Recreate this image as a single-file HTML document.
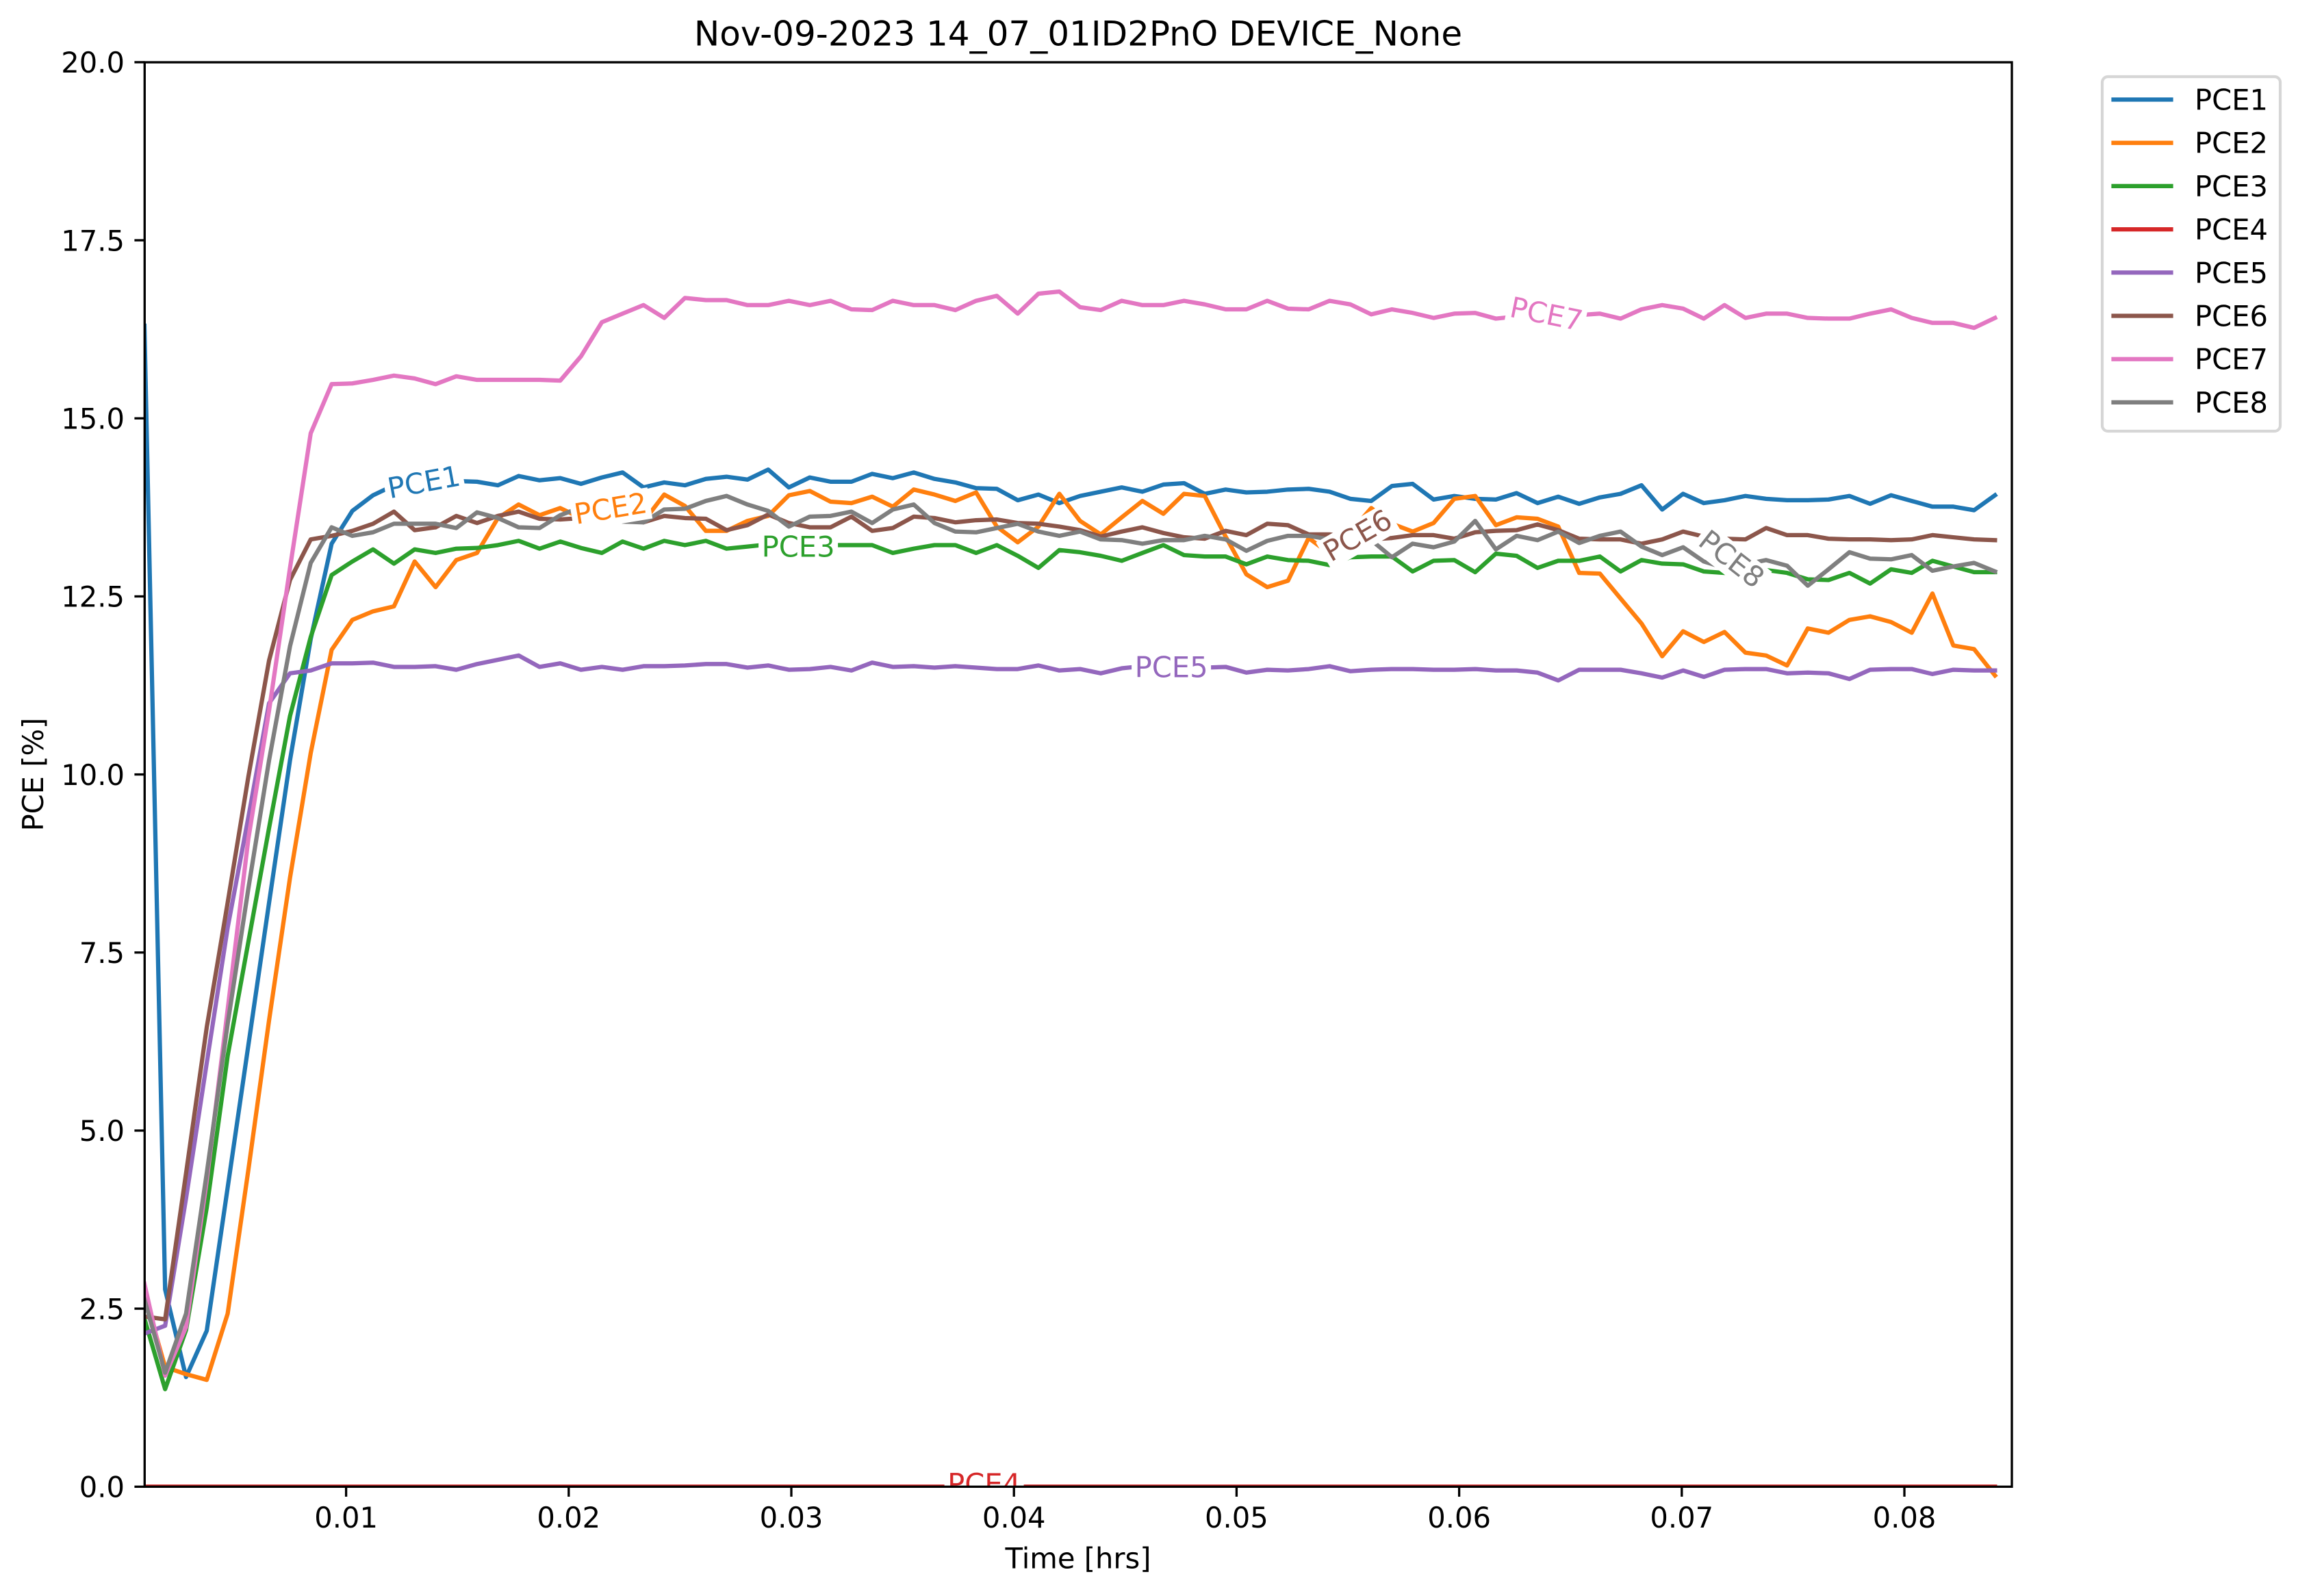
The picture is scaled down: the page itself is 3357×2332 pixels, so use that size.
<!DOCTYPE html>
<html lang="en">
<head>
<meta charset="utf-8">
<title>PCE chart</title>
<style>
html,body{margin:0;padding:0;background:#fff;}
svg{display:block;}
text{font-family:"DejaVu Sans","Liberation Sans",sans-serif;}
</style>
</head>
<body>
<svg id="chart" xmlns="http://www.w3.org/2000/svg" width="3357" height="2332" viewBox="0 0 3357 2332">
  <defs><clipPath id="axes-clip"><rect x="211.3" y="91" width="2727.7" height="2081.3"/></clipPath></defs>
  <rect x="0" y="0" width="3357" height="2332" fill="#ffffff"/>
  <rect x="211.3" y="91" width="2727.7" height="2081.3" fill="#ffffff"/>
  <g id="lines" clip-path="url(#axes-clip)"></g>
  <g id="labels" clip-path="url(#axes-clip)"></g>
  <g id="ticks"></g>
  <rect x="211.3" y="91" width="2727.7" height="2081.3" fill="none" stroke="#000" stroke-width="3.33"/>
  <text x="1575" y="66.5" font-size="50" text-anchor="middle">Nov-09-2023 14_07_01ID2PnO DEVICE_None</text>
  <text x="1575" y="2291.5" font-size="41.67" text-anchor="middle">Time [hrs]</text>
  <text transform="translate(63,1131.6) rotate(-90)" font-size="41.67" text-anchor="middle">PCE [%]</text>
  <g id="legend">
    <rect x="3071" y="112" width="260" height="518" rx="8.3" ry="8.3" fill="#fff" stroke="#d6d6d6" stroke-width="4.17"/>
  </g>
</svg>
<script>
const time = [0.00094,0.00187,0.00281,0.00374,0.00468,0.00561,0.00654,0.00748,0.00841,0.00935,
0.01028,0.01121,0.01215,0.01308,0.01402,0.01495,0.01588,0.01682,0.01775,0.01869,
0.01962,0.02055,0.02149,0.02242,0.02336,0.02429,0.02522,0.02616,0.02709,0.02803,
0.02896,0.02989,0.03083,0.03176,0.03270,0.03363,0.03456,0.03550,0.03643,0.03737,
0.03830,0.03923,0.04017,0.04110,0.04204,0.04297,0.04390,0.04484,0.04577,0.04671,
0.04764,0.04857,0.04951,0.05044,0.05138,0.05231,0.05324,0.05418,0.05511,0.05605,
0.05698,0.05791,0.05885,0.05978,0.06072,0.06165,0.06258,0.06352,0.06445,0.06539,
0.06632,0.06725,0.06819,0.06912,0.07006,0.07099,0.07192,0.07286,0.07379,0.07473,
0.07566,0.07659,0.07753,0.07846,0.07940,0.08033,0.08126,0.08220,0.08313,0.08407];

const pce1 = [16.3,2.77,1.54,2.19,4.2,6.2,8.2,10.2,11.9,13.24,
13.70,13.92,14.06,14.13,14.12,14.12,14.11,14.06,14.19,14.13,
14.16,14.08,14.17,14.24,14.03,14.10,14.06,14.15,14.18,14.14,
14.28,14.03,14.17,14.11,14.11,14.22,14.16,14.24,14.15,14.10,
14.02,14.01,13.85,13.93,13.81,13.91,13.97,14.03,13.97,14.07,
14.09,13.94,14.00,13.96,13.97,14.00,14.01,13.97,13.87,13.84,
14.05,14.08,13.86,13.91,13.87,13.86,13.95,13.81,13.90,13.80,
13.89,13.94,14.06,13.72,13.94,13.81,13.85,13.91,13.87,13.85,
13.85,13.86,13.91,13.80,13.92,13.84,13.76,13.76,13.71,13.92];

const pce2 = [2.7,1.68,1.58,1.50,2.43,4.45,6.55,8.55,10.3,11.75,
12.17,12.29,12.36,12.99,12.63,13.01,13.11,13.60,13.79,13.64,
13.74,13.6,13.65,13.73,13.55,13.93,13.77,13.42,13.42,13.56,
13.63,13.92,13.98,13.83,13.81,13.90,13.76,14.00,13.93,13.84,
13.96,13.48,13.26,13.48,13.94,13.56,13.37,13.61,13.84,13.66,
13.94,13.91,13.34,12.81,12.63,12.72,13.32,13.1,13.4,13.74,
13.52,13.41,13.53,13.87,13.91,13.50,13.61,13.59,13.48,12.83,
12.82,12.47,12.12,11.66,12.01,11.86,12.00,11.71,11.67,11.53,
12.05,11.99,12.17,12.22,12.14,11.99,12.54,11.81,11.76,11.39];

const pce3 = [2.36,1.37,2.20,3.92,6.05,7.65,9.25,10.82,11.93,12.80,
12.99,13.16,12.96,13.16,13.11,13.17,13.18,13.22,13.28,13.17,
13.27,13.18,13.11,13.27,13.17,13.28,13.22,13.28,13.17,13.20,
13.23,13.22,13.22,13.22,13.22,13.22,13.11,13.17,13.22,13.22,
13.11,13.22,13.07,12.90,13.15,13.12,13.07,13.00,13.11,13.22,
13.08,13.06,13.06,12.95,13.06,13.01,13.00,12.94,13.05,13.06,
13.06,12.85,13.00,13.01,12.84,13.10,13.07,12.90,13.00,13.00,
13.06,12.85,13.01,12.96,12.95,12.85,12.83,12.83,12.87,12.83,
12.74,12.73,12.83,12.68,12.88,12.83,13.00,12.92,12.84,12.84];

const pce4 = [0,0,0,0,0,0,0,0,0,0,
0,0,0,0,0,0,0,0,0,0,
0,0,0,0,0,0,0,0,0,0,
0,0,0,0,0,0,0,0,0,0,
0,0,0,0,0,0,0,0,0,0,
0,0,0,0,0,0,0,0,0,0,
0,0,0,0,0,0,0,0,0,0,
0,0,0,0,0,0,0,0,0,0,
0,0,0,0,0,0,0,0,0,0];

const pce5 = [2.15,2.26,4.05,5.95,7.85,9.4,11.0,11.42,11.46,11.56,
11.56,11.57,11.51,11.51,11.52,11.47,11.55,11.61,11.67,11.51,
11.56,11.47,11.51,11.47,11.52,11.52,11.53,11.55,11.55,11.50,
11.53,11.47,11.48,11.51,11.46,11.57,11.51,11.52,11.50,11.52,
11.50,11.48,11.48,11.53,11.46,11.48,11.42,11.49,11.52,11.52,
11.52,11.50,11.51,11.43,11.47,11.46,11.48,11.52,11.45,11.47,
11.48,11.48,11.47,11.47,11.48,11.46,11.46,11.43,11.32,11.47,
11.47,11.47,11.42,11.36,11.46,11.37,11.47,11.48,11.48,11.42,
11.43,11.42,11.34,11.47,11.48,11.48,11.41,11.47,11.46,11.46];

const pce6 = [2.39,2.35,4.4,6.45,8.2,9.97,11.6,12.73,13.30,13.35,
13.42,13.52,13.69,13.43,13.47,13.63,13.53,13.63,13.69,13.59,
13.58,13.6,13.62,13.6,13.54,13.63,13.60,13.59,13.43,13.50,
13.65,13.53,13.47,13.47,13.62,13.42,13.46,13.62,13.60,13.54,
13.57,13.58,13.53,13.52,13.48,13.43,13.34,13.41,13.47,13.39,
13.33,13.31,13.42,13.36,13.52,13.50,13.37,13.37,13.33,13.3,
13.32,13.36,13.36,13.31,13.40,13.42,13.43,13.51,13.43,13.31,
13.30,13.30,13.24,13.30,13.41,13.34,13.31,13.30,13.46,13.36,
13.36,13.31,13.30,13.30,13.29,13.30,13.36,13.33,13.30,13.29];

const pce7 = [2.85,1.56,2.24,4.3,6.7,9.1,10.9,12.9,14.79,15.48,
15.49,15.54,15.60,15.56,15.48,15.59,15.54,15.54,15.54,15.54,
15.53,15.87,16.35,16.47,16.59,16.41,16.69,16.66,16.66,16.59,
16.59,16.65,16.59,16.65,16.53,16.52,16.65,16.59,16.59,16.52,
16.65,16.72,16.47,16.75,16.78,16.56,16.52,16.65,16.59,16.59,
16.65,16.60,16.53,16.53,16.65,16.54,16.53,16.65,16.60,16.46,
16.53,16.48,16.41,16.47,16.48,16.40,16.43,16.47,16.44,16.45,
16.47,16.40,16.53,16.59,16.54,16.40,16.59,16.41,16.47,16.47,
16.41,16.40,16.40,16.47,16.53,16.41,16.34,16.34,16.27,16.41];

const pce8 = [2.63,1.60,2.43,4.4,6.5,8.4,10.2,11.8,12.97,13.47,
13.35,13.40,13.52,13.52,13.52,13.46,13.68,13.60,13.47,13.46,
13.64,13.75,13.65,13.55,13.54,13.72,13.73,13.84,13.91,13.79,
13.70,13.48,13.62,13.63,13.69,13.53,13.72,13.79,13.53,13.41,
13.40,13.46,13.52,13.41,13.35,13.41,13.30,13.29,13.24,13.29,
13.29,13.35,13.30,13.14,13.28,13.35,13.35,13.3,13.3,13.29,
13.05,13.24,13.19,13.27,13.56,13.16,13.35,13.29,13.41,13.25,
13.35,13.41,13.20,13.08,13.19,12.99,12.9,12.95,13.01,12.93,
12.65,12.88,13.12,13.03,13.02,13.08,12.86,12.92,12.97,12.85];

const seriesNames = ["PCE1","PCE2","PCE3","PCE4","PCE5","PCE6","PCE7","PCE8"];
const seriesValues = [pce1,pce2,pce3,pce4,pce5,pce6,pce7,pce8];
const seriesColors = ["#1f77b4","#ff7f0e","#2ca02c","#d62728","#9467bd","#8c564b","#e377c2","#7f7f7f"];
const xTicks = [0.01,0.02,0.03,0.04,0.05,0.06,0.07,0.08];
const xTickLabels = ["0.01","0.02","0.03","0.04","0.05","0.06","0.07","0.08"];
const yTicks = [0,2.5,5,7.5,10,12.5,15,17.5,20];
const yTickLabels = ["0.0","2.5","5.0","7.5","10.0","12.5","15.0","17.5","20.0"];
const labelSeries = [0,1,2,3,4,5,6,7];
const labelTimes = [0.01349,0.02188,0.03031,0.03866,0.04707,0.05543,0.06392,0.07225];
const labelValues = [14.11,13.74,13.20,0.04,11.51,13.36,16.47,13.03];
const labelAngles = [-10.5,-9.5,0,0,0,-30,11.5,38];

const NS = "http://www.w3.org/2000/svg";
function xScale(t){ return 505.6 + 32520 * (t - 0.01); }
function yScale(v){ return 2172.3 - 104.07 * v; }
function make(tag, attrs){
  const el = document.createElementNS(NS, tag);
  for (const k in attrs) el.setAttribute(k, attrs[k]);
  return el;
}

const linesGroup = document.getElementById("lines");
seriesValues.forEach(function(vals, s){
  const pts = vals.map(function(v, i){ return xScale(time[i]).toFixed(2) + "," + yScale(v).toFixed(2); }).join(" ");
  const line = make("polyline", {points: pts, fill: "none", stroke: seriesColors[s], "stroke-width": 6.25, "stroke-linejoin": "round", "stroke-linecap": "square"});
  
  
  linesGroup.appendChild(line);
});

const labelsGroup = document.getElementById("labels");
labelSeries.forEach(function(s, k){
  const g = make("g", {transform: "translate(" + xScale(labelTimes[k]).toFixed(1) + "," + yScale(labelValues[k]).toFixed(1) + ") rotate(" + labelAngles[k] + ")"});
  
  
  const bg = make("rect", {x: -58, y: -21, width: 116, height: 46, fill: "#fff"});
  
  
  g.appendChild(bg);
  const t = make("text", {x: 0, y: 15, "font-size": 41.67, "text-anchor": "middle", fill: seriesColors[s]});
  
  
  t.textContent = seriesNames[s];
  g.appendChild(t);
  labelsGroup.appendChild(g);
});

const ticksGroup = document.getElementById("ticks");
xTicks.forEach(function(t, i){
  const x = xScale(t);
  const mark = make("line", {x1: x, x2: x, y1: 2172.3, y2: 2186.9, stroke: "#000", "stroke-width": 3.33});
  
  
  ticksGroup.appendChild(mark);
  const lab = make("text", {x: x, y: 2232, "font-size": 41.67, "text-anchor": "middle"});
  
  
  lab.textContent = xTickLabels[i];
  ticksGroup.appendChild(lab);
});
yTicks.forEach(function(v, i){
  const y = yScale(v);
  const mark = make("line", {x1: 196.4, x2: 211.3, y1: y, y2: y, stroke: "#000", "stroke-width": 3.33});
  
  
  ticksGroup.appendChild(mark);
  const lab = make("text", {x: 182, y: y + 15.2, "font-size": 41.67, "text-anchor": "end"});
  
  
  lab.textContent = yTickLabels[i];
  ticksGroup.appendChild(lab);
});

const legend = document.getElementById("legend");
seriesNames.forEach(function(name, i){
  const y = 145.5 + 63.2 * i;
  const handle = make("line", {x1: 3087.5, x2: 3171.5, y1: y, y2: y, stroke: seriesColors[i], "stroke-width": 6.25, "stroke-linecap": "square"});
  
  
  legend.appendChild(handle);
  const lab = make("text", {x: 3206, y: y + 15, "font-size": 41.67});
  
  
  lab.textContent = name;
  legend.appendChild(lab);
});
</script>
</body>
</html>
